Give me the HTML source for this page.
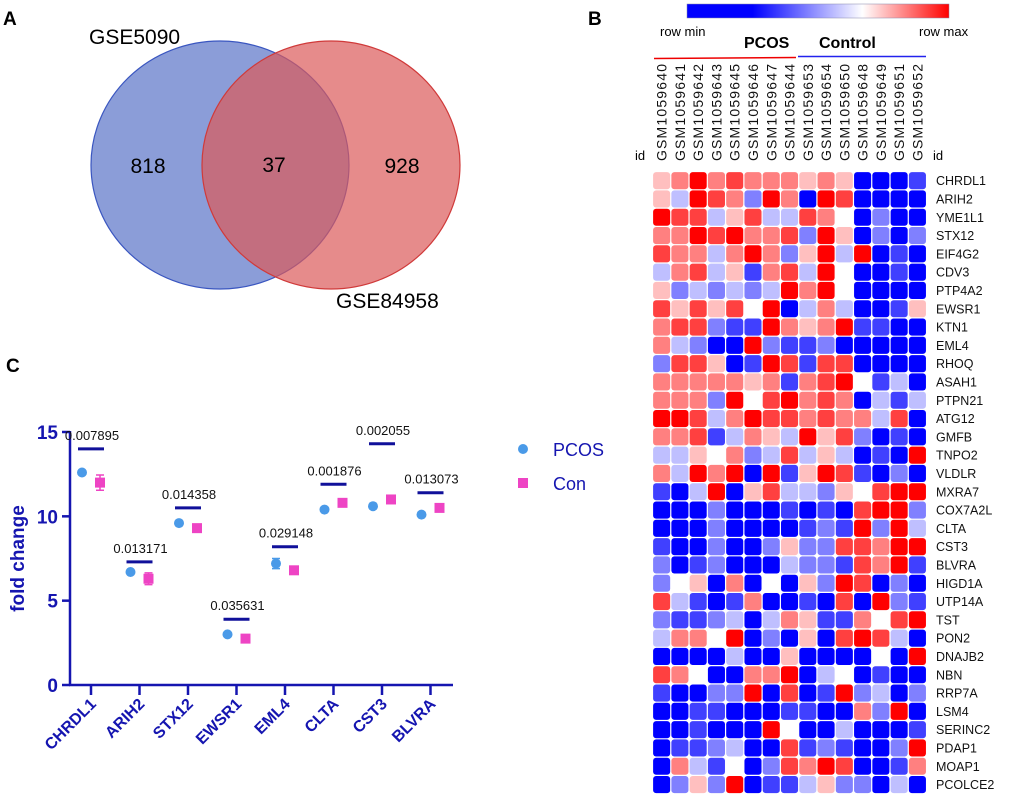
<!DOCTYPE html>
<html><head><meta charset="utf-8"><style>
body{margin:0;background:#fff;width:1020px;height:797px;overflow:hidden}
svg{display:block;font-family:"Liberation Sans",Arial,sans-serif}
</style></head><body>
<svg id="fig" width="1020" height="797" viewBox="0 0 1020 797">
<g>
<text x="3" y="25" font-size="19" font-weight="bold">A</text>
<ellipse cx="220" cy="165" rx="129" ry="124" fill="#5a74c8" fill-opacity="0.7" stroke="#3a56c0" stroke-width="1.2"/>
<ellipse cx="331" cy="165" rx="129" ry="124" fill="#dc5a5a" fill-opacity="0.7" stroke="#d03a3a" stroke-width="1.2"/>
<text x="89" y="44" font-size="21">GSE5090</text>
<text x="148" y="173" font-size="21" text-anchor="middle">818</text>
<text x="274" y="172" font-size="21" text-anchor="middle">37</text>
<text x="402" y="173" font-size="21" text-anchor="middle">928</text>
<text x="336" y="308" font-size="21">GSE84958</text>
</g>
<g id="panelC">
<text x="6" y="372" font-size="19" font-weight="bold">C</text>
</g>
<g id="panelB">
<text x="588" y="25" font-size="19" font-weight="bold">B</text>
<defs><linearGradient id="cb" x1="0" x2="1"><stop offset="0" stop-color="#0000ff"/><stop offset="0.25" stop-color="#0000ff"/><stop offset="0.67" stop-color="#ffffff"/><stop offset="1" stop-color="#ff0000"/></linearGradient></defs>
<rect x="687" y="4" width="262" height="14" fill="url(#cb)" stroke="#88a" stroke-width="0.5"/>
<text x="660" y="36" font-size="13">row min</text>
<text x="919" y="36" font-size="13">row max</text>
<text x="744" y="48" font-size="16" font-weight="bold">PCOS</text>
<text x="819" y="48" font-size="16" font-weight="bold">Control</text>
<line x1="654" y1="58.5" x2="796" y2="57.5" stroke="#e00" stroke-width="1.5"/>
<line x1="798" y1="56.5" x2="926" y2="56.5" stroke="#22e" stroke-width="1.5"/>
<text x="635" y="160" font-size="13">id</text>
<text x="933" y="160" font-size="13">id</text>
</g>
</svg>
<script>
const NS="http://www.w3.org/2000/svg";
function mk(parent,tag,attrs,txt){const e=document.createElementNS(NS,tag);for(const k in attrs)e.setAttribute(k,attrs[k]);if(txt!==undefined)e.textContent=txt;parent.appendChild(e);return e;}

// ---------- Panel C data ----------
const genes=["CHRDL1","ARIH2","STX12","EWSR1","EML4","CLTA","CST3","BLVRA"];
const pcosValues=[12.6,6.7,9.6,3.0,7.2,10.4,10.6,10.1];
const pcosErr=[0,0,0,0,0.3,0,0,0];
const conValues=[12.0,6.3,9.3,2.75,6.8,10.8,11.0,10.5];
const conErr=[0.45,0.35,0,0,0,0,0,0];
const sigBarValues=[14.0,7.3,10.5,3.9,8.2,11.9,14.3,11.4];
const pValueLabels=["0.007895","0.013171","0.014358","0.035631","0.029148","0.001876","0.002055","0.013073"];
const yTicks=[0,5,10,15];

const C=document.getElementById('panelC');
const y0=685, pxPerUnit=(685-432)/15;
const yS=v=>y0-v*pxPerUnit;
const xS=i=>91+i*48.5;
const axisBlue="#1515b0";
let e;
e=mk(C,'line',{x1:70,y1:yS(15)-1,x2:70,y2:y0,stroke:axisBlue,'stroke-width':2.5});


e=mk(C,'line',{x1:69,y1:y0,x2:453,y2:y0,stroke:axisBlue,'stroke-width':2.5});


yTicks.forEach(t=>{
  e=mk(C,'line',{x1:62,y1:yS(t),x2:70,y2:yS(t),stroke:axisBlue,'stroke-width':2.5});
  
  
  e=mk(C,'text',{x:58,y:yS(t)+7,'font-size':19,'font-weight':'bold',fill:axisBlue,'text-anchor':'end'},t);
  
  
});
e=mk(C,'text',{x:0,y:0,'font-size':19,'font-weight':'bold',fill:axisBlue,'text-anchor':'middle',transform:'translate(24,'+yS(7.5)+') rotate(-90)'},'fold change');


genes.forEach((g,i)=>{
  const x=xS(i);
  e=mk(C,'line',{x1:x,y1:y0,x2:x,y2:y0+10,stroke:axisBlue,'stroke-width':2.5});
  
  
  e=mk(C,'text',{x:0,y:0,'font-size':16,'font-weight':'bold',fill:axisBlue,'text-anchor':'end',transform:'translate('+(x+6)+','+(y0+20)+') rotate(-45)'},g);
  
  
  e=mk(C,'line',{x1:x-13,y1:yS(sigBarValues[i]),x2:x+13,y2:yS(sigBarValues[i]),stroke:"#10109a",'stroke-width':3});
  
  
  e=mk(C,'text',{x:x+1,y:yS(sigBarValues[i])-9,'font-size':13,'text-anchor':'middle',fill:'#111'},pValueLabels[i]);
  
  
  const px=x-9, cx=x+9;
  if(pcosErr[i]>0){
    e=mk(C,'path',{d:`M${px-4},${yS(pcosValues[i]+pcosErr[i])}H${px+4}M${px},${yS(pcosValues[i]+pcosErr[i])}V${yS(pcosValues[i]-pcosErr[i])}M${px-4},${yS(pcosValues[i]-pcosErr[i])}H${px+4}`,stroke:'#4a9ae8','stroke-width':1.5,fill:'none'});
    
    
  }
  e=mk(C,'circle',{cx:px,cy:yS(pcosValues[i]),r:5,fill:'#4a9ae8'});
  
  
  if(conErr[i]>0){
    e=mk(C,'path',{d:`M${cx-4},${yS(conValues[i]+conErr[i])}H${cx+4}M${cx},${yS(conValues[i]+conErr[i])}V${yS(conValues[i]-conErr[i])}M${cx-4},${yS(conValues[i]-conErr[i])}H${cx+4}`,stroke:'#ee44c4','stroke-width':1.5,fill:'none'});
    
    
  }
  e=mk(C,'rect',{x:cx-5,y:yS(conValues[i])-5,width:10,height:10,fill:'#ee44c4'});
  
  
});
e=mk(C,'circle',{cx:523,cy:449,r:5,fill:'#4a9ae8'});


e=mk(C,'text',{x:553,y:456,'font-size':18,fill:axisBlue},'PCOS');


e=mk(C,'rect',{x:518,y:478,width:10,height:10,fill:'#ee44c4'});


e=mk(C,'text',{x:553,y:490,'font-size':18,fill:axisBlue},'Con');



// ---------- Panel B data ----------
const samples=["GSM1059640","GSM1059641","GSM1059642","GSM1059643","GSM1059645","GSM1059646","GSM1059647","GSM1059644","GSM1059653","GSM1059654","GSM1059650","GSM1059648","GSM1059649","GSM1059651","GSM1059652"];
const heatGenes=["CHRDL1","ARIH2","YME1L1","STX12","EIF4G2","CDV3","PTP4A2","EWSR1","KTN1","EML4","RHOQ","ASAH1","PTPN21","ATG12","GMFB","TNPO2","VLDLR","MXRA7","COX7A2L","CLTA","CST3","BLVRA","HIGD1A","UTP14A","TST","PON2","DNAJB2","NBN","RRP7A","LSM4","SERINC2","PDAP1","MOAP1","PCOLCE2"];
const heatValues=[
[1,2,4,2,3,2,2,2,1,2,1,-4,-4,-4,-3],
[1,-1,4,3,2,-2,4,2,-4,4,3,-4,-4,-4,-4],
[4,3,3,-1,1,3,-1,-1,3,2,0,-4,-2,-4,-4],
[2,2,4,3,4,2,2,3,-2,4,1,-4,-2,-4,-2],
[3,2,2,-1,2,4,2,-2,1,4,-1,4,-4,-3,-4],
[-1,2,3,-1,1,-3,2,3,-1,4,0,-4,-4,-3,-4],
[1,-2,-1,-2,-1,-2,-1,4,2,4,0,-4,-4,-4,-4],
[3,1,3,1,3,0,4,-4,-1,2,-1,-4,-4,-3,1],
[2,3,3,-2,-3,-3,4,2,1,2,4,-3,-3,-4,-4],
[2,-1,-2,-4,-4,4,-2,-3,-3,-2,-4,-4,-4,-4,-4],
[-2,3,3,1,-4,-3,4,3,-3,3,3,-4,-4,-4,-4],
[2,2,2,2,2,1,2,-3,2,3,4,0,-3,-1,-4],
[2,2,2,-2,4,0,3,4,2,3,2,-4,-1,-3,-1],
[4,4,3,-1,2,4,3,3,2,3,2,2,-1,3,-4],
[2,2,3,-3,-1,2,1,-1,4,1,3,-2,-4,-3,-4],
[-1,-1,1,0,2,-2,-1,3,-1,1,-1,-4,-3,-4,4],
[2,-1,4,2,4,-4,4,-3,1,4,3,-3,-4,-2,-4],
[-3,-4,-1,4,-4,1,3,-1,-1,-2,1,0,3,4,4],
[-4,-4,-4,-2,-4,-4,-4,-3,-4,-3,-4,3,4,4,-2],
[-4,-4,-4,-2,-4,-4,-4,-4,-3,-2,-3,4,-2,4,-1],
[-3,-4,-4,-2,-4,-4,-2,1,-2,-2,3,3,2,4,4],
[-2,-4,-3,-2,-4,-4,-4,-1,-2,-2,-3,3,2,4,-3],
[-2,0,1,-4,2,-4,0,-4,1,-2,4,3,-4,-2,-4],
[3,-1,-3,-4,-3,2,-4,-4,-3,-4,3,-4,4,-2,-3],
[-2,-3,-3,-2,-1,-4,-1,2,1,-3,-3,2,0,3,4],
[-1,2,2,0,4,-4,-2,-4,1,-4,3,4,3,-1,-4],
[-4,-4,-4,-4,-1,-4,-4,1,-4,-4,-4,-4,0,-4,4],
[3,2,0,-4,-4,2,2,4,-4,-1,0,-4,-3,-4,-4],
[-3,-4,-4,-2,-2,4,-4,3,-4,-3,4,-2,-1,-4,-2],
[-4,-4,-3,-3,-4,-4,-4,-3,-3,-4,-4,2,-2,4,-4],
[-4,-4,-3,-4,-4,-4,4,0,-4,-4,-1,-4,-4,-4,-3],
[-4,-3,-3,-2,-1,-4,-4,3,-3,-2,-3,-4,-4,-2,4],
[-4,2,-1,-3,0,-4,-2,3,2,4,3,-4,-4,-3,2],
[-4,-2,1,-2,4,-4,-3,-3,-1,1,-2,-2,-4,-1,-4]
];
const B=document.getElementById('panelB');
const hx0=652.5, hy0=171.5, cw=18.27, ch=18.3;
function colorOf(v){const t=Math.max(-1,Math.min(1,v/4));
  if(t>=0){const g=Math.round(255*(1-t));return `rgb(255,${g},${g})`;}
  const g=Math.round(255*(1+t));return `rgb(${g},${g},255)`;}
samples.forEach((s,j)=>{
  const cx=hx0+j*cw+cw/2;
  e=mk(B,'text',{x:0,y:0,'font-size':14,fill:'#111',textLength:97,lengthAdjust:'spacing',transform:`translate(${cx+5},161) rotate(-90)`},s);
  
  
});
heatGenes.forEach((g,i)=>{
  const y=hy0+i*ch;
  heatValues[i].forEach((v,j)=>{
    e=mk(B,'rect',{x:hx0+j*cw+0.6,y:y+0.6,width:cw-1.2,height:ch-1.2,rx:3,fill:colorOf(v)});
    
    
  });
  e=mk(B,'text',{x:936,y:y+ch/2+4.5,'font-size':12.5,fill:'#111'},g);
  
  
});
</script>
</body></html>
